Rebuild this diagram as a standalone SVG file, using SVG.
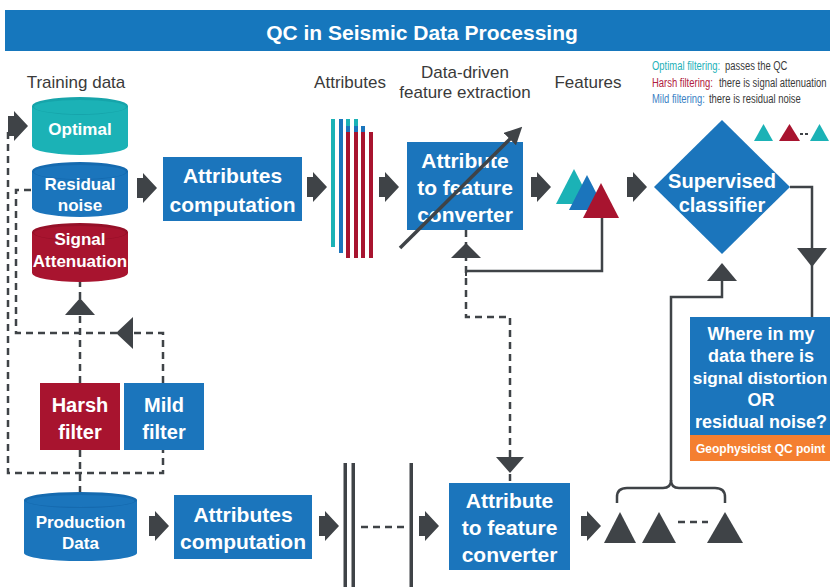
<svg xmlns="http://www.w3.org/2000/svg" width="830" height="587" viewBox="0 0 830 587">
  <style>
    .w { font-family: "Liberation Sans", Arial, sans-serif; font-weight: bold; fill: #ffffff; text-anchor: middle; }
    .lbl { font-family: "Liberation Sans", Arial, sans-serif; font-size: 17px; fill: #3a3a3a; text-anchor: middle; }
    .leg { font-family: "Liberation Sans", Arial, sans-serif; font-size: 13.5px; fill: #3a3a3a; }
    .dash { fill: none; stroke: #3f4347; stroke-width: 2.5; stroke-dasharray: 7 5; }
    .solid { fill: none; stroke: #3f4347; stroke-width: 2.5; }
    .head { fill: #3f4347; }
    .blue { fill: #1b75bc; }
    .teal { fill: #1bb2b6; }
    .red { fill: #a8142f; }
  </style>
  <defs>
    <path id="chev" d="M0,-10 H6 V-15 L20,0 L6,15 V10 H0 Z" fill="#3f4347"/>
    <marker id="tip" viewBox="0 0 10 10" refX="5" refY="5" markerWidth="5" markerHeight="5" orient="auto" markerUnits="strokeWidth">
      <path d="M0,0 L10,5 L0,10 Z" fill="#3f4347"/>
    </marker>
  </defs>

  <rect width="830" height="587" fill="#ffffff"/>

  <!-- title bar -->
  <g id="title">
    <rect x="5" y="10" width="825" height="41" fill="#1677bd"/>
    <text x="422" y="40" class="w" font-size="21">QC in Seismic Data Processing</text>
  </g>

  <!-- column labels -->
  <g id="labels">
    <text x="76" y="88" class="lbl">Training data</text>
    <text x="350" y="88" class="lbl">Attributes</text>
    <text x="465" y="78" class="lbl">Data-driven</text>
    <text x="465" y="98" class="lbl">feature extraction</text>
    <text x="588" y="88" class="lbl">Features</text>
  </g>

  <!-- legend (condensed horizontally) -->
  <g id="legend">
    <text transform="matrix(0.7 0 0 1 652 70)" class="leg" style="fill:#1db1b8">Optimal filtering:</text>
    <text transform="matrix(0.7 0 0 1 725 70)" class="leg">passes the QC</text>
    <text transform="matrix(0.7 0 0 1 652 87)" class="leg" style="fill:#b02040">Harsh filtering:</text>
    <text transform="matrix(0.7 0 0 1 719 87)" class="leg">there is signal attenuation</text>
    <text transform="matrix(0.7 0 0 1 652 103)" class="leg" style="fill:#3b7fc4">Mild filtering:</text>
    <text transform="matrix(0.7 0 0 1 709 103)" class="leg">there is residual noise</text>
    <polygon points="754,141 763.5,124 773,141" class="teal"/>
    <polygon points="779,141 789.5,124 800,141" class="red"/>
    <line x1="800" y1="134" x2="810" y2="134" stroke="#3f4347" stroke-width="2" stroke-dasharray="3 2"/>
    <polygon points="810,141 819.5,124 829,141" class="teal"/>
  </g>

  <!-- connectors -->
  <g id="connectors">
    <!-- dashed filter loops on the left -->
    <path class="dash" d="M8,132 V473 H163 V450"/>
    <path class="dash" d="M80,450 V492"/>
    <path class="dash" d="M80,383 V282"/>
    <path class="dash" d="M163,383 V333 H16 V190 H32"/>
    <polygon class="head" points="80,298 95,315 65,315"/>
    <polygon class="head" points="116,333 133,317 133,349"/>

    <!-- feature feedback into the converter -->
    <path class="solid" d="M602,218 V271 H466"/>
    <line x1="466" y1="266" x2="466" y2="276" stroke="#3f4347" stroke-width="2"/>
    <path class="dash" d="M466,230 V317 H510 V483"/>
    <polygon class="head" points="466,243 481,258 451,258"/>
    <polygon class="head" points="510,473 496,457 524,457"/>

    <!-- classifier outputs -->
    <path class="solid" d="M790,187 H812 V318"/>
    <polygon class="head" points="812,267 827,248 797,248"/>
    <path class="solid" d="M722,281 V297 H671 V481"/>
    <polygon class="head" points="722,263 737,281 707,281"/>
    <path class="solid" d="M617,503 V497 Q617,488 627,488 H663 Q671,488 671,480 Q671,488 679,488 H715 Q725,488 725,497 V503"/>

    <!-- flow chevrons, top row -->
    <use href="#chev" x="8" y="126"/>
    <use href="#chev" x="137" y="188"/>
    <use href="#chev" x="307" y="187"/>
    <use href="#chev" x="379" y="187"/>
    <use href="#chev" x="531" y="187"/>
    <use href="#chev" x="627" y="187"/>
    <!-- flow chevrons, bottom row -->
    <use href="#chev" x="149" y="526"/>
    <use href="#chev" x="319" y="526"/>
    <use href="#chev" x="419" y="526"/>
    <use href="#chev" x="581" y="526"/>

    <!-- pipeline breaks on the bottom row -->
    <rect x="343.5" y="463" width="3.5" height="124" fill="#3f4347"/>
    <rect x="351.5" y="463" width="3.5" height="124" fill="#3f4347"/>
    <rect x="409.5" y="463" width="3.5" height="124" fill="#3f4347"/>
    <line x1="361" y1="527" x2="404" y2="527" stroke="#3f4347" stroke-width="2.5" stroke-dasharray="7 5"/>
  </g>

  <!-- training data cylinders -->
  <g id="cyl-optimal">
    <path d="M32,106 V146 A48,9 0 0 0 128,146 V106 Z" class="teal"/>
    <ellipse cx="80" cy="106" rx="48" ry="9" fill="#16a4aa"/>
    <ellipse cx="80" cy="107" rx="46" ry="7" fill="#1bb2b6"/>
    <text x="80" y="135" class="w" font-size="17">Optimal</text>
  </g>
  <g id="cyl-residual">
    <path d="M32,171 V208 A48,9 0 0 0 128,208 V171 Z" class="blue"/>
    <ellipse cx="80" cy="171" rx="48" ry="9" fill="#156aaf"/>
    <ellipse cx="80" cy="172" rx="46" ry="7" fill="#1b75bc"/>
    <text x="80" y="190" class="w" font-size="17">Residual</text>
    <text x="80" y="211" class="w" font-size="17">noise</text>
  </g>
  <g id="cyl-signal">
    <path d="M32,232 V273 A48,9 0 0 0 128,273 V232 Z" class="red"/>
    <ellipse cx="80" cy="232" rx="48" ry="9" fill="#951028"/>
    <ellipse cx="80" cy="233" rx="46" ry="7" fill="#a8142f"/>
    <text x="80" y="245" class="w" font-size="17">Signal</text>
    <text x="80" y="267" class="w" font-size="17">Attenuation</text>
  </g>
  <g id="cyl-production">
    <path d="M24,500 V553 A56.5,8 0 0 0 137,553 V500 Z" class="blue"/>
    <ellipse cx="80.5" cy="500" rx="56.5" ry="8" fill="#156aaf"/>
    <ellipse cx="80.5" cy="501" rx="54" ry="6" fill="#1b75bc"/>
    <text x="80.5" y="528" class="w" font-size="17">Production</text>
    <text x="80.5" y="549" class="w" font-size="17">Data</text>
  </g>

  <!-- filters -->
  <g id="harsh-filter">
    <rect x="40" y="383" width="80" height="67" class="red"/>
    <text x="80" y="412" class="w" font-size="20">Harsh</text>
    <text x="80" y="439" class="w" font-size="20">filter</text>
  </g>
  <g id="mild-filter">
    <rect x="124" y="383" width="80" height="67" class="blue"/>
    <text x="164" y="412" class="w" font-size="20">Mild</text>
    <text x="164" y="439" class="w" font-size="20">filter</text>
  </g>

  <!-- top row processing -->
  <g id="attr-comp-top">
    <rect x="163" y="157" width="139" height="64" class="blue"/>
    <text x="232.5" y="183" class="w" font-size="21">Attributes</text>
    <text x="232.5" y="212" class="w" font-size="21">computation</text>
  </g>
  <g id="attributes">
    <rect x="331" y="119" width="4" height="128" class="teal"/>
    <rect x="339" y="119" width="4" height="134" class="blue"/>
    <rect x="346" y="119" width="4" height="7" class="teal"/>
    <rect x="346" y="126" width="4" height="6" class="blue"/>
    <rect x="346" y="132" width="4" height="126" class="red"/>
    <rect x="354" y="119" width="4" height="7" class="teal"/>
    <rect x="354" y="126" width="4" height="6" class="blue"/>
    <rect x="354" y="132" width="4" height="126" class="red"/>
    <rect x="361" y="126" width="4" height="6" class="blue"/>
    <rect x="361" y="132" width="4" height="126" class="red"/>
    <rect x="369" y="132" width="4" height="126" class="red"/>
  </g>
  <g id="converter-top">
    <rect x="407" y="142" width="116" height="88" class="blue"/>
    <text x="465" y="168" class="w" font-size="21">Attribute</text>
    <text x="465" y="195" class="w" font-size="21">to feature</text>
    <text x="465" y="222" class="w" font-size="21">converter</text>
    <line x1="400" y1="248" x2="516" y2="133" stroke="#3f4347" stroke-width="3.5" marker-end="url(#tip)"/>
  </g>
  <g id="features">
    <polygon points="556,204 574,169 592,204" class="teal"/>
    <polygon points="569,210 587,175 605,210" class="blue"/>
    <polygon points="583,218 601,183 619,218" class="red"/>
  </g>
  <g id="classifier">
    <polygon points="722,120 790,187 722,254 654,187" class="blue"/>
    <text x="722" y="188" class="w" font-size="20">Supervised</text>
    <text x="722" y="212" class="w" font-size="20">classifier</text>
  </g>
  <g id="qc-question">
    <rect x="690" y="317" width="140" height="118" class="blue"/>
    <rect x="690" y="435" width="140" height="26" fill="#f47f30"/>
    <text x="761" y="340" class="w" font-size="18">Where in my</text>
    <text x="761" y="362" class="w" font-size="18">data there is</text>
    <text x="760" y="384" class="w" font-size="17.3">signal distortion</text>
    <text x="761" y="406" class="w" font-size="18">OR</text>
    <text x="761" y="428" class="w" font-size="18">residual noise?</text>
    <text x="696" y="453" class="w" font-size="12" style="text-anchor:start">Geophysicist QC point</text>
  </g>

  <!-- bottom row processing -->
  <g id="attr-comp-bottom">
    <rect x="174" y="495" width="138" height="64" class="blue"/>
    <text x="243" y="522" class="w" font-size="21">Attributes</text>
    <text x="243" y="549" class="w" font-size="21">computation</text>
  </g>
  <g id="converter-bottom">
    <rect x="449" y="483" width="121" height="87" class="blue"/>
    <text x="509.5" y="508" class="w" font-size="21">Attribute</text>
    <text x="509.5" y="535" class="w" font-size="21">to feature</text>
    <text x="509.5" y="562" class="w" font-size="21">converter</text>
  </g>
  <g id="predictions">
    <polygon points="604,543 620,512 636,543" class="head"/>
    <polygon points="642,543 659,512 676,543" class="head"/>
    <line x1="678" y1="522" x2="708" y2="522" stroke="#3f4347" stroke-width="2.5" stroke-dasharray="7 5"/>
    <polygon points="707,543 725,512 743,543" class="head"/>
  </g>
</svg>
